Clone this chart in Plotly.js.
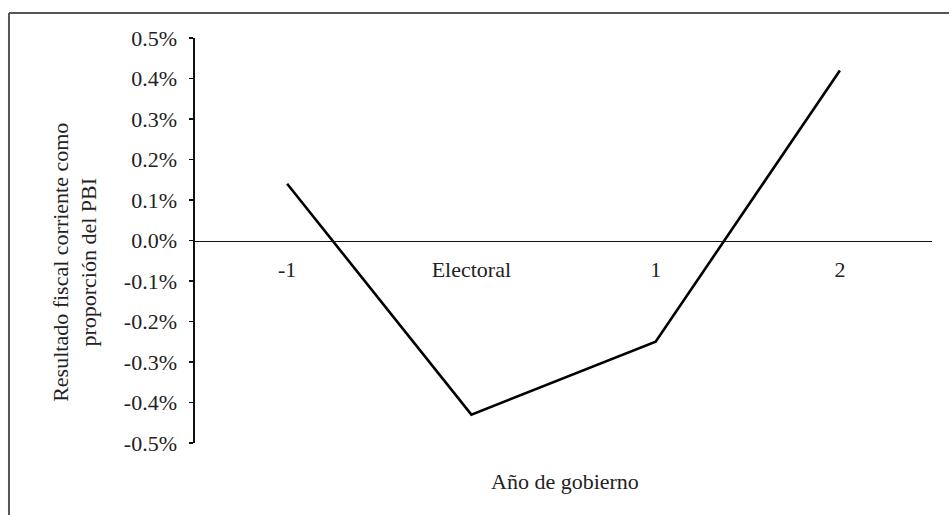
<!DOCTYPE html>
<html>
<head>
<meta charset="utf-8">
<script src="https://cdn.plot.ly/plotly-3.0.1.min.js"></script>
<style>
  html, body { margin: 0; padding: 0; background: #fff; }
  #chart { width: 949px; height: 515px; }
</style>
</head>
<body>
<div id="chart"></div>
<script>
const categories = ["-1", "Electoral", "1", "2"];
const values = [0.0014, -0.0043, -0.0025, 0.0042];
const yTickVals = [-0.005, -0.004, -0.003, -0.002, -0.001, 0, 0.001, 0.002, 0.003, 0.004, 0.005];
const yTickText = ["-0.5%", "-0.4%", "-0.3%", "-0.2%", "-0.1%", "0.0%", "0.1%", "0.2%", "0.3%", "0.4%", "0.5%"];
const yTitleLines = ["Resultado fiscal corriente como", "proporción del PBI"];
const xTitle = "Año de gobierno";

const FONT = "Liberation Serif, Times New Roman, serif";
const TXT = "#222";

const trace = {
  type: "scatter",
  mode: "lines",
  x: categories,
  y: values,
  line: { color: "#000", width: 2.6 },
  hoverinfo: "skip"
};

const layout = {
  width: 949,
  height: 515,
  margin: { l: 195, r: 17, t: 38, b: 72 },
  paper_bgcolor: "#fff",
  plot_bgcolor: "#fff",
  showlegend: false,
  font: { family: FONT, color: TXT, size: 22 },
  xaxis: {
    type: "category",
    range: [-0.5, 3.5],
    anchor: "free",
    position: 0.5,
    showline: true,
    linecolor: "#111",
    linewidth: 1.6,
    showgrid: false,
    zeroline: false,
    ticks: "",
    ticklabelstandoff: 8,
    tickfont: { family: FONT, size: 22, color: TXT },
    fixedrange: true
  },
  yaxis: {
    range: [-0.005, 0.005],
    tickvals: yTickVals,
    ticktext: yTickText,
    showline: true,
    linecolor: "#111",
    linewidth: 1.6,
    ticks: "outside",
    ticklen: 4,
    tickwidth: 1.4,
    tickcolor: "#111",
    ticklabelstandoff: 8,
    showgrid: false,
    zeroline: false,
    tickfont: { family: FONT, size: 22, color: TXT },
    fixedrange: true
  },
  annotations: [
    {
      text: yTitleLines.join("<br>"),
      xref: "paper", yref: "paper",
      x: -0.163, y: 0.447,
      xanchor: "center", yanchor: "middle",
      textangle: -90,
      showarrow: false,
      font: { family: FONT, size: 22, color: TXT }
    },
    {
      text: xTitle,
      xref: "paper", yref: "paper",
      x: 0.502, y: -0.096,
      xanchor: "center", yanchor: "middle",
      showarrow: false,
      font: { family: FONT, size: 22, color: TXT }
    }
  ],
  shapes: [
    {
      type: "line", xref: "paper", yref: "paper",
      x0: -0.2524, x1: 1.05, y0: 1.062, y1: 1.062,
      line: { color: "#555", width: 2 }
    },
    {
      type: "line", xref: "paper", yref: "paper",
      x0: -0.2524, x1: -0.2524, y0: 1.062, y1: -0.2,
      line: { color: "#555", width: 2 }
    }
  ]
};

Plotly.newPlot("chart", [trace], layout, { displayModeBar: false, staticPlot: true });
</script>
</body>
</html>
